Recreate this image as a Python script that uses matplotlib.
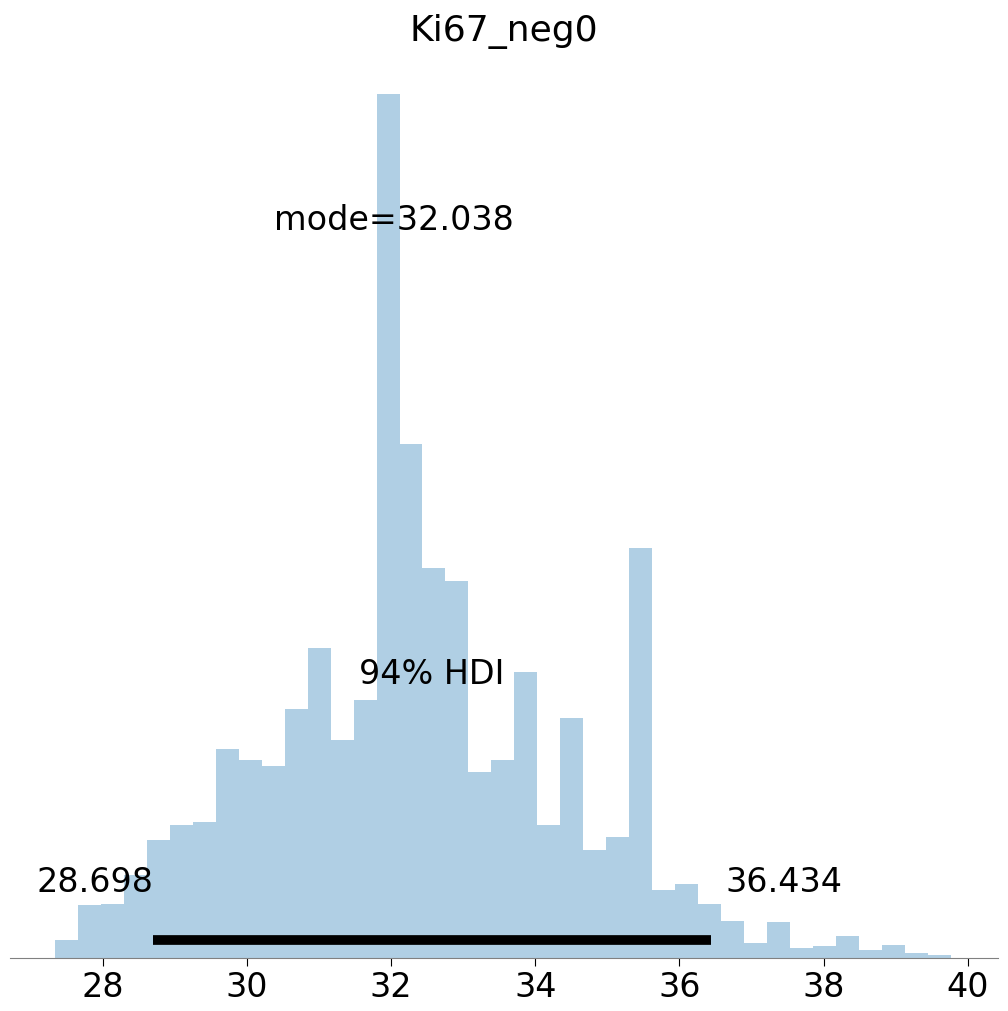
import numpy as np
import matplotlib
matplotlib.use("Agg")
import matplotlib.pyplot as plt

# histogram bin heights (arbitrary units)
bin_start = 27.33
bin_width = 0.319
heights = [18, 53, 54, 83, 118, 133, 136, 209, 198, 192, 249, 310, 218, 258,
           864, 514, 390, 377, 186, 198, 286, 133, 240, 108, 121, 410, 68, 74,
           54, 37, 15, 36, 10, 12, 22, 8, 13, 5, 3]
hdi_low, hdi_high = 28.698, 36.434
mode_val = 32.038
ticks = [28, 30, 32, 34, 36, 38, 40]

fig = plt.figure(figsize=(10.08, 10.11), dpi=100)
ax = fig.add_axes([10 / 1008, 53 / 1011, 988 / 1008, 906 / 1011])

lefts = bin_start + bin_width * np.arange(len(heights))
ax.bar(lefts, heights, width=bin_width, align="edge", color="C0", alpha=0.35, linewidth=0)

ax.plot([hdi_low, hdi_high], [18, 18], color="k", lw=7, solid_capstyle="butt")
ax.text(hdi_low, 75, f"{hdi_low:.3f}", ha="right", va="center", fontsize=24)
ax.text(hdi_high + 0.2, 75, f"{hdi_high:.3f}", ha="left", va="center", fontsize=24)
ax.text((hdi_low + hdi_high) / 2, 283, "94% HDI", ha="center", va="center", fontsize=24)
ax.text(mode_val, 738, f"mode={mode_val:.3f}", ha="center", va="center", fontsize=24)

ax.set_xlim(26.71, 40.42)
ax.set_ylim(0, 906)
ax.set_xticks(ticks)
ax.tick_params(axis="x", labelsize=24, length=6)
ax.set_yticks([])
for s in ["left", "right", "top"]:
    ax.spines[s].set_visible(False)
ax.spines["bottom"].set_color("gray")
ax.set_title("Ki67_neg0", fontsize=26, pad=8)

fig.savefig("out.png")
